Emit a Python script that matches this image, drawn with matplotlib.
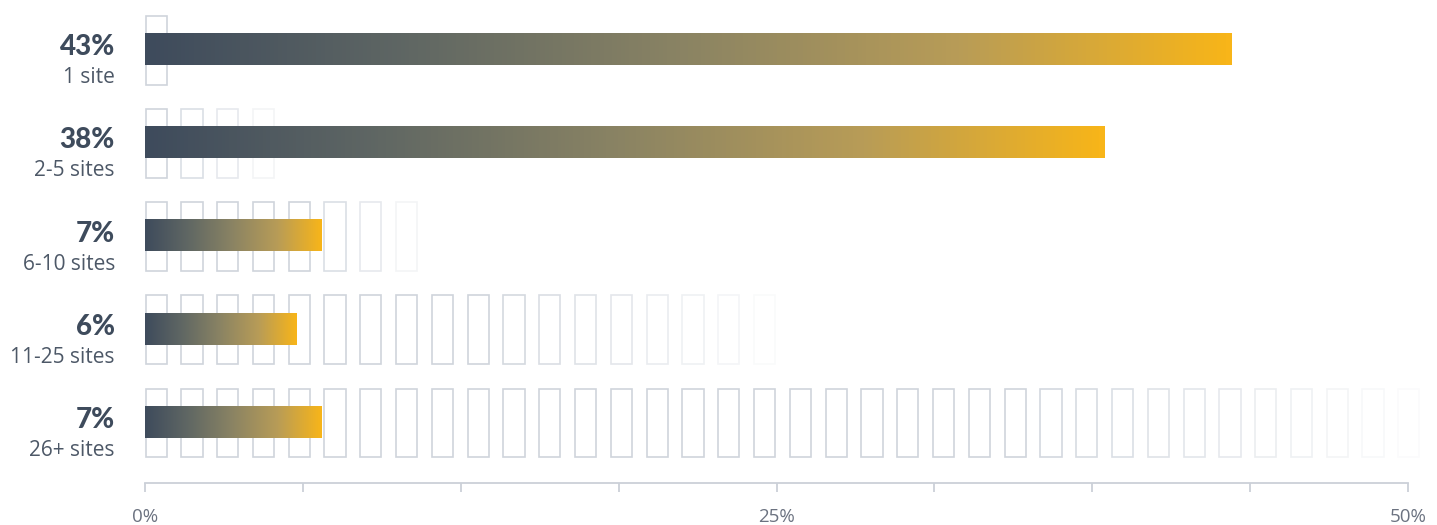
import numpy as np
import matplotlib
matplotlib.use('Agg')
from matplotlib import pyplot as plt
from matplotlib.patches import Rectangle
from matplotlib.colors import LinearSegmentedColormap

plt.rcParams['font.family'] = ['Lato', 'DejaVu Sans']

# data
percents = [43, 38, 7, 6, 7]
groups = ['1 site', '2-5 sites', '6-10 sites', '11-25 sites', '26+ sites']
# site icons drawn behind each bar: how many are visible, where the fade starts
icon_counts = [1, 4, 8, 18, 36]
fade_start = [1, 1, 5, 10, 25]
tick_vals = [0, 6.25, 12.5, 18.75, 25, 31.25, 37.5, 43.75, 50]
tick_labels = ['0%', '', '', '', '25%', '', '', '', '50%']

dark = '#3e4b5c'
gold = '#f8b519'
icon_col = '#cfd4dc'
axis_col = '#cbd0d8'
bold_font = ['Lato', 'DejaVu Sans']
light_font = ['Open Sans', 'DejaVu Sans']

W, H = 1437, 525
fig = plt.figure(figsize=(W / 100, H / 100), dpi=100)
ax = fig.add_axes([145 / W, (H - 483) / H, (1408 - 145) / W, 483 / H])

row_px = 93.25

cmap = LinearSegmentedColormap.from_list(
    'bar', [(0, dark), (0.25, '#616864'), (0.5, '#8b8463'),
            (0.75, '#b89c57'), (1, gold)])
grad = np.linspace(0, 1, 256).reshape(1, -1)

bar_h = 32 / row_px
icon_h = 69 / row_px
icon_w = 0.84
icon_step = 1.417

for i, (p, g) in enumerate(zip(percents, groups)):
    # site icons
    for k in range(icon_counts[i]):
        if k < fade_start[i]:
            a = 1.0
        else:
            a = 1 - (k - fade_start[i] + 1) / (icon_counts[i] - fade_start[i] + 1)
        ax.add_patch(Rectangle((k * icon_step + 0.02, i - icon_h / 2 + 1 / row_px),
                               icon_w, icon_h, facecolor='white', edgecolor=icon_col,
                               lw=1.2, alpha=a, zorder=1, clip_on=False))
    # gradient bar
    ax.imshow(grad, cmap=cmap, aspect='auto', zorder=2,
              extent=[0, p, i + bar_h / 2, i - bar_h / 2], interpolation='bilinear')
    ax.text(-1.19, i + 6 / row_px, f'{p}%', ha='right', va='baseline',
            fontsize=20, fontweight='black', color=dark, family=bold_font)
    ax.text(-1.19, i + 34 / row_px, g, ha='right', va='baseline',
            fontsize=15, color='#4d5867', family=light_font)

ax.set_xlim(0, 50)
ax.set_ylim((483 - 49) / row_px, -49 / row_px)

for s in ['top', 'left', 'right']:
    ax.spines[s].set_visible(False)
ax.spines['bottom'].set_color(axis_col)
ax.spines['bottom'].set_linewidth(1.3)
ax.set_yticks([])
ax.set_xticks(tick_vals)
ax.set_xticklabels(tick_labels, family=light_font)
ax.tick_params(axis='x', direction='out', length=6.5, width=1.3, color=axis_col,
               labelcolor='#6b7280', labelsize=13.5, pad=11.5)

fig.savefig('out.png', dpi=100)
